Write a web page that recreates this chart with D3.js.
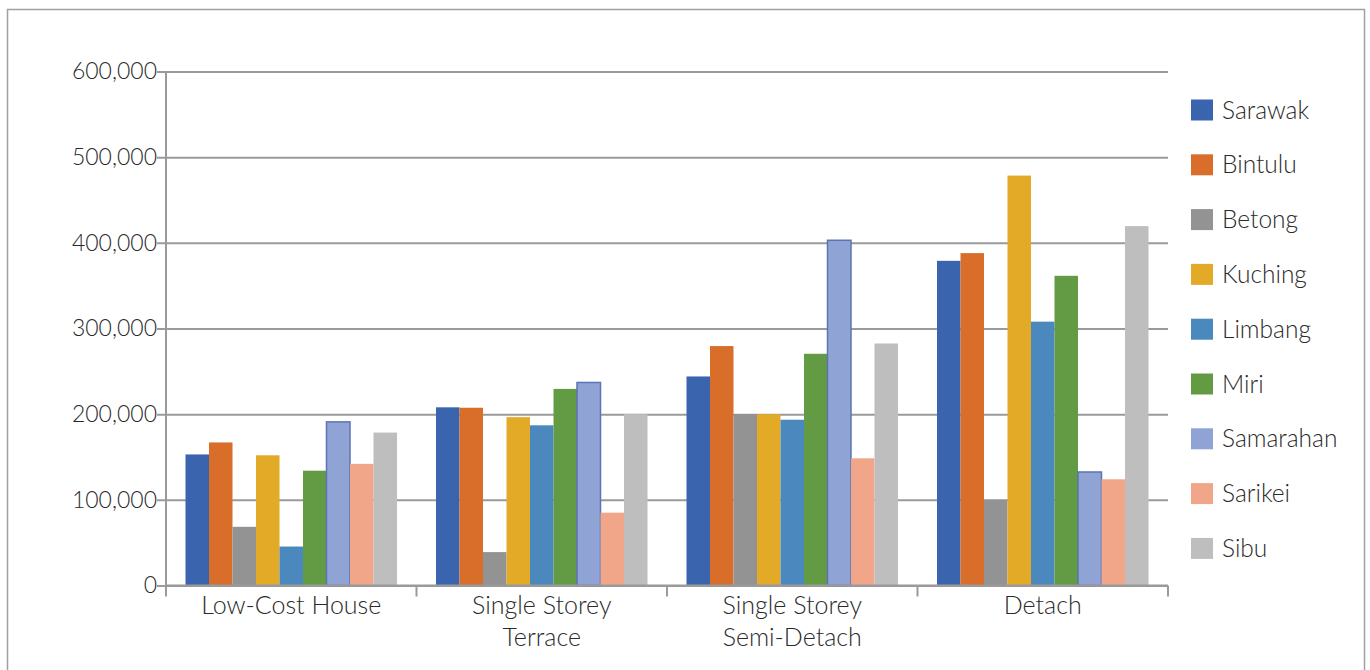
<!DOCTYPE html>
<html>
<head>
<meta charset="utf-8">
<script src="https://cdn.jsdelivr.net/npm/d3@7"></script>
<style>
  html, body { margin: 0; padding: 0; background: #fff; }
  svg { display: block; font-family: Lato, "Open Sans", sans-serif; font-weight: 300; }
</style>
</head>
<body>
<svg id="chart" width="1370" height="670"></svg>
<script>
// House types along the x axis (multi-line labels split on "\n")
const categories = ["Low-Cost House", "Single Storey\nTerrace", "Single Storey\nSemi-Detach", "Detach"];

// Regions (series) in legend order
const regions = ["Sarawak", "Bintulu", "Betong", "Kuching", "Limbang", "Miri", "Samarahan", "Sarikei", "Sibu"];

// Average price per region, one value per house type
const sarawak   = [153000, 208000, 244000, 379000];
const bintulu   = [167000, 207500, 279500, 388000];
const betong    = [ 68500,  39000, 200000, 100000];
const kuching   = [152000, 196500, 200000, 478500];
const limbang   = [ 45500, 187000, 193500, 308000];
const miri      = [134000, 229500, 270500, 361500];
const samarahan = [191000, 237000, 403000, 132500];
const sarikei   = [142000,  85000, 148500, 124000];
const sibu      = [178500, 200000, 282500, 419500];

const seriesValues = [sarawak, bintulu, betong, kuching, limbang, miri, samarahan, sarikei, sibu];

const yTicks = [0, 100000, 200000, 300000, 400000, 500000, 600000];

const colors = ["#3a64ad", "#d86e2a", "#939393", "#e2aa26", "#4b88bd", "#639a44", "#8fa3d4", "#f2a689", "#bebebe"];
const strokes = [null, null, null, null, null, null, "#5c74b3", null, null];

const textColor = "#2a2a2a";

const svg = d3.select("#chart");

// outer frame
svg.append("rect")
  .attr("x", 7.5).attr("y", 9.5)
  .attr("width", 1357).attr("height", 700)
  .attr("fill", "none").attr("stroke", "#a0a0a0").attr("stroke-width", 1.5);

const plotLeft = 166, plotRight = 1168, plotTop = 71.5, plotBottom = 585.5;

const x0 = d3.scaleBand().domain(d3.range(categories.length)).range([plotLeft, plotRight]).padding(0);
const bw = x0.bandwidth();
const x1 = d3.scaleBand().domain(d3.range(regions.length)).range([19.5, bw - 19.5]).padding(0);
const y = d3.scaleLinear().domain([0, 600000]).range([plotBottom, plotTop]);

const fmt = d3.format(",");

// horizontal gridlines with left tick stubs
const yAxis = d3.axisLeft(y).tickValues(yTicks).tickFormat(fmt)
  .tickSize(-(plotRight - plotLeft)).tickSizeOuter(0).tickPadding(2);
const gy = svg.append("g").attr("transform", `translate(${plotLeft},0)`).call(yAxis);
gy.select(".domain").remove();
gy.selectAll(".tick line").attr("x1", -9).attr("stroke", "#9a9a9a").attr("stroke-width", 2);
gy.selectAll(".tick text")
  .attr("x", -9)
  .attr("fill", textColor)
  .style("font-size", "23px")
  .style("font-family", "Lato, sans-serif")
  .style("font-weight", 300);

// vertical axis line
svg.append("line")
  .attr("x1", plotLeft).attr("x2", plotLeft).attr("y1", plotTop).attr("y2", plotBottom)
  .attr("stroke", "#9a9a9a").attr("stroke-width", 2);

// bars
const groups = svg.append("g").selectAll("g")
  .data(categories)
  .join("g")
  .attr("transform", (d, i) => `translate(${x0(i)},0)`);

groups.selectAll("rect")
  .data((d, ci) => seriesValues.map((vals, si) => ({ si, v: vals[ci] })))
  .join("rect")
  .attr("x", d => x1(d.si))
  .attr("width", x1.bandwidth())
  .attr("y", d => y(d.v))
  .attr("height", d => y(0) - y(d.v))
  .attr("fill", d => colors[d.si])
  .attr("stroke", d => strokes[d.si] || "none")
  .attr("stroke-width", d => strokes[d.si] ? 1.5 : 0);

// x axis baseline and category boundary ticks
svg.append("line")
  .attr("x1", plotLeft).attr("x2", plotRight).attr("y1", plotBottom).attr("y2", plotBottom)
  .attr("stroke", "#9a9a9a").attr("stroke-width", 2);

const boundaries = d3.range(categories.length + 1).map(i => i < categories.length ? x0(i) : plotRight);
svg.append("g").selectAll("line")
  .data(boundaries)
  .join("line")
  .attr("x1", d => d).attr("x2", d => d)
  .attr("y1", plotBottom).attr("y2", plotBottom + 11)
  .attr("stroke", "#9a9a9a").attr("stroke-width", 2);

// category labels
const labels = svg.append("g").selectAll("text")
  .data(categories)
  .join("text")
  .attr("x", (d, i) => x0(i) + bw / 2)
  .attr("y", 614)
  .attr("text-anchor", "middle")
  .attr("fill", textColor)
  .style("font-size", "25px");
labels.selectAll("tspan")
  .data(d => d.split("\n"))
  .join("tspan")
  .attr("x", function () { return this.parentNode.getAttribute("x"); })
  .attr("dy", (d, i) => i === 0 ? 0 : 32)
  .text(d => d);

// legend
const legend = svg.append("g").selectAll("g")
  .data(regions)
  .join("g")
  .attr("transform", (d, i) => `translate(1191,${110 + i * 54.8})`);
legend.append("rect")
  .attr("x", 0).attr("y", -10.5)
  .attr("width", 22).attr("height", 21)
  .attr("fill", (d, i) => colors[i]);
legend.append("text")
  .attr("x", 31).attr("y", 8.5)
  .attr("fill", textColor)
  .style("font-size", "24.5px")
  .text(d => d);
</script>
</body>
</html>
